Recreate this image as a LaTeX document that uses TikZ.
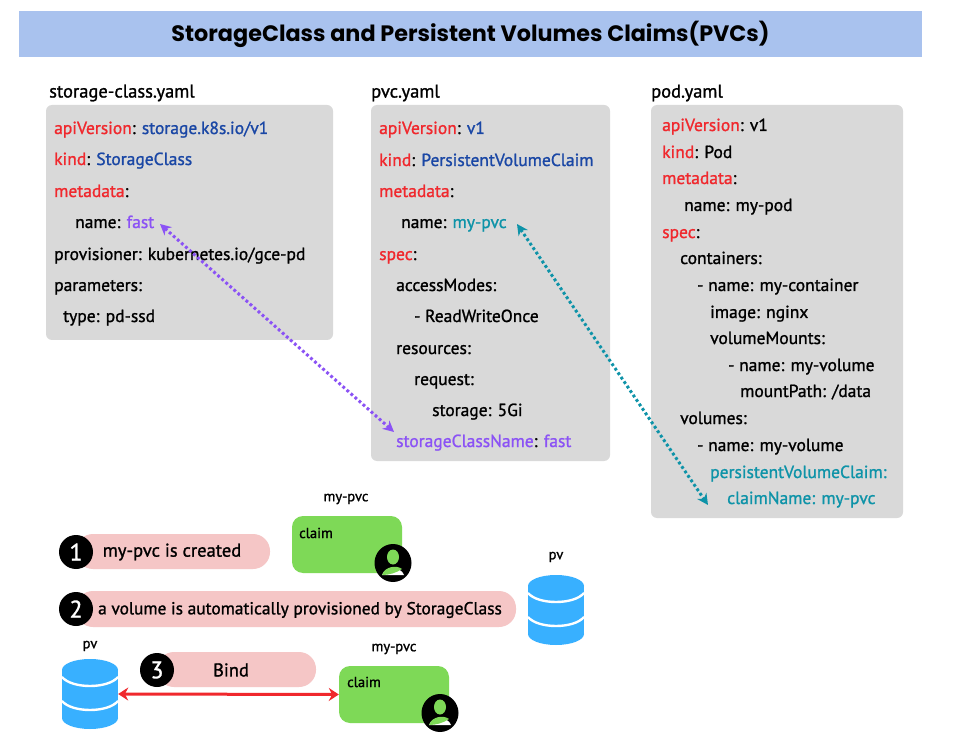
\documentclass[tikz,border=0pt]{standalone}
\usepackage{fontspec}
\setmainfont{PT Sans}[FakeBold=1.2]
\newfontfamily\titlefont{Poppins}
\usetikzlibrary{arrows.meta,calc}
\definecolor{kred}{HTML}{F0282D}
\definecolor{kblue}{HTML}{1A47A5}
\definecolor{kpur}{HTML}{8B52F5}
\definecolor{kteal}{HTML}{0E93A8}
\definecolor{bargrey}{HTML}{D9D9D9}
\definecolor{barblue}{HTML}{A9C2EE}
\definecolor{pillc}{HTML}{F5C6C6}
\definecolor{greenc}{HTML}{7ED957}
\definecolor{dbc}{HTML}{38B0FF}
\newcommand{\kk}[1]{\textcolor{kred}{#1}}
\newcommand{\vv}[1]{\textcolor{kblue}{#1}}
\newcommand{\pp}[1]{\textcolor{kpur}{#1}}
\newcommand{\tl}[1]{\textcolor{kteal}{#1}}
\tikzset{
  x=1pt,y=-1pt,
  yl/.style={anchor=west,inner sep=0pt,font=\fontsize{17.5}{20}\selectfont,text height=12pt,text depth=4pt,yshift=-2pt},
  fl/.style={anchor=west,inner sep=0pt,font=\fontsize{18.5}{20}\selectfont},
  panel/.style={fill=bargrey,rounded corners=6pt,draw=none},
  pill/.style={fill=pillc,rounded corners=17pt,draw=none},
  num/.style={circle,fill=black,text=white,inner sep=0pt,minimum size=34pt,font=\fontsize{24}{26}\selectfont},
  pilltext/.style={inner sep=0pt,font=\fontsize{18.5}{20}\selectfont},
  claimbox/.style={fill=greenc,rounded corners=11pt,minimum width=110pt,minimum height=57pt,inner sep=0pt},
  small/.style={inner sep=0pt,font=\fontsize{14.5}{16}\selectfont},
  dbbox/.style={minimum width=56pt,minimum height=70pt,inner sep=0pt},
  link/.style={line width=3pt,dash pattern=on 2.8pt off 2.6pt,{Stealth[length=11pt,width=11pt]}-{Stealth[length=11pt,width=11pt]}},
  pics/dbicon/.style={code={
    \fill[dbc] (-28,-24) rectangle (28,24);
    \fill[dbc] (0,-24) ellipse[x radius=28,y radius=11];
    \fill[dbc] (0,24) ellipse[x radius=28,y radius=11];
    \draw[white,line width=2.4pt] (-28,-17) .. controls (-18,-5) and (18,-5) .. (28,-17);
    \draw[white,line width=2.4pt] (-28,7) .. controls (-18,19) and (18,19) .. (28,7);
  }},
  pics/avatar/.style={code={
    \fill[black] (0,0) ellipse[x radius=18.5,y radius=19];
    \fill[greenc] (0,-6) ellipse[x radius=6,y radius=7.5];
    \fill[white] (-11,12) .. controls (-8,3) and (8,3) .. (11,12) -- cycle;
    \fill[greenc] (-11,12) .. controls (-8,3) and (4,2) .. (9,6) .. controls (3,10) and (-4,12) .. (-11,12) -- cycle;
  }}
}
\begin{document}
\begin{tikzpicture}
\useasboundingbox (0,0) rectangle (970,738);
\fill[white] (0,0) rectangle (970,738);
\node[fill=barblue,minimum width=903pt,minimum height=46pt,inner sep=0pt,font=\titlefont\fontsize{22.3}{26}\bfseries\selectfont] (title) at (470.5,34) {StorageClass and Persistent Volumes Claims(PVCs)};

\node[fl] (f1) at (49,93) {storage-class.yaml};
\node[fl] (f2) at (371,93) {pvc.yaml};
\node[fl] (f3) at (651,93) {pod.yaml};

\fill[panel] (46,105) rectangle (333,340);
\fill[panel] (371,105) rectangle (610,461);
\fill[panel] (651,105) rectangle (903,518);

\node[yl] (a1) at (54,128) {\kk{apiVersion}: \vv{storage.k8s.io/v1}};
\node[yl] (a2) at (54,159) {\kk{kind}: \vv{StorageClass}};
\node[yl] (a3) at (54,191) {\kk{metadata}:};
\node[yl] (a4) at (75,222) {name: \pp{fast}};
\node[yl] (a5) at (54,254) {provisioner: kubernetes.io/gce-pd};
\node[yl] (a6) at (54,285) {parameters:};
\node[yl] (a7) at (63,316) {type: pd-ssd};

\node[yl] (b1) at (379,128) {\kk{apiVersion}: \vv{v1}};
\node[yl] (b2) at (379,160) {\kk{kind}: \vv{PersistentVolumeClaim}};
\node[yl] (b3) at (379,191) {\kk{metadata}:};
\node[yl] (b4) at (401,222) {name: \tl{my-pvc}};
\node[yl] (b5) at (379,254) {\kk{spec}:};
\node[yl] (b6) at (396,285) {accessModes:};
\node[yl] (b7) at (414,316) {- ReadWriteOnce};
\node[yl] (b8) at (396,348) {resources:};
\node[yl] (b9) at (414,379) {request:};
\node[yl] (b10) at (432,410) {storage: 5Gi};
\node[yl] (b11) at (396,441) {\pp{storageClassName}: \pp{fast}};

\node[yl] (c1) at (662,125) {\kk{apiVersion}: v1};
\node[yl] (c2) at (662,152) {\kk{kind}: Pod};
\node[yl] (c3) at (662,178) {\kk{metadata}:};
\node[yl] (c4) at (684,205) {name: my-pod};
\node[yl] (c5) at (662,232) {\kk{spec}:};
\node[yl] (c6) at (680,258) {containers:};
\node[yl] (c7) at (697,285) {- name: my-container};
\node[yl] (c8) at (710,312) {image: nginx};
\node[yl] (c9) at (710,338) {volumeMounts:};
\node[yl] (c10) at (728,365) {- name: my-volume};
\node[yl] (c11) at (740,391) {mountPath: /data};
\node[yl] (c12) at (680,418) {volumes:};
\node[yl] (c13) at (697,445) {- name: my-volume};
\node[yl] (c14) at (710,472) {\tl{persistentVolumeClaim:}};
\node[yl] (c15) at (727,498) {\tl{claimName: my-pvc}};

\coordinate (fastend) at (160,224);
\coordinate (classend) at (394,432);
\coordinate (pvcend) at (517,224);
\coordinate (claimend) at (708,505);
\draw[link,kpur] (fastend) -- (classend);
\draw[link,kteal] (pvcend) -- (claimend);

% step 1
\fill[pill] (76,534) rectangle (270,569);
\node[num] (n1) at (76,552) {1};
\node[pilltext] (t1) at (172,552) {my-pvc is created};
\node[claimbox] (g1) at (347,544.5) {};
\node[small,anchor=west] (g1t) at (299,533) {claim};
\node[small] (g1l) at (346,499) {my-pvc};
\pic at (393,563) {avatar};
% step 2
\fill[pill] (76,591) rectangle (516,627);
\node[num] (n2) at (76,609) {2};
\node[pilltext,font=\fontsize{17.4}{20}\selectfont] (t2) at (300,610) {a volume is automatically provisioned by StorageClass};
\node[dbbox] (d1) at (556,610) {};
\pic at (556,610) {dbicon};
\node[small] (d1l) at (556,557) {pv};
% step 3
\fill[pill] (157,652) rectangle (316,687);
\node[num] (n3) at (157,670) {3};
\node[pilltext] (t3) at (231,670) {Bind};
\node[dbbox] (d2) at (90,694) {};
\pic at (90,694) {dbicon};
\node[small] (d2l) at (90,646) {pv};
\node[claimbox] (g2) at (394,694.5) {};
\node[small,anchor=west] (g2t) at (347,682) {claim};
\node[small] (g2l) at (394,649) {my-pvc};
\pic at (440,713) {avatar};
\draw[line width=3pt,kred,{Stealth[length=10pt,width=13pt]}-{Stealth[length=10pt,width=13pt]}] (d2.east) -- (g2.west);
\end{tikzpicture}
\end{document}
